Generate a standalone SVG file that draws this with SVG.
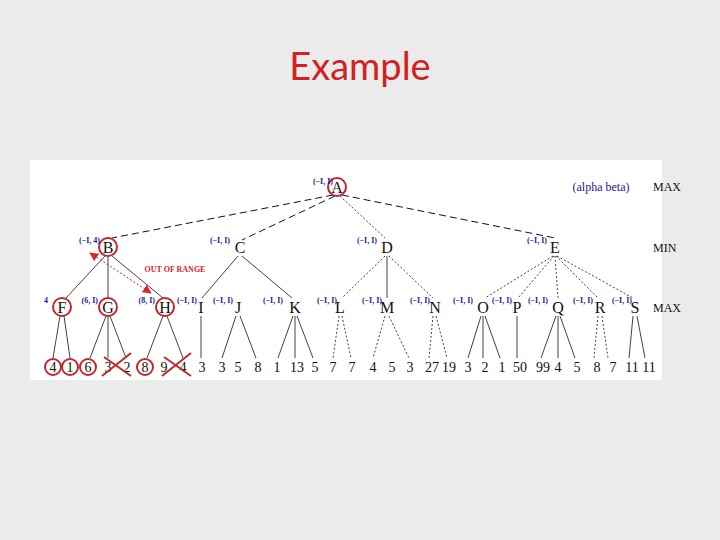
<svg xmlns="http://www.w3.org/2000/svg" width="720" height="540" viewBox="0 0 720 540">
<style>
.n{font-family:"Liberation Serif",serif;font-size:16px;text-anchor:middle;fill:#111}
.lf{font-family:"Liberation Serif",serif;font-size:14px;text-anchor:middle;fill:#111}
.lb{font-family:"Liberation Serif",serif;font-size:8px;font-weight:bold;text-anchor:end;fill:#1a1a9a}
.side{font-family:"Liberation Serif",serif;font-size:12px;fill:#111}
.e{stroke:#111;stroke-width:0.8;fill:none}
.d{stroke:#111;stroke-width:1;fill:none;stroke-dasharray:7 4}
.o{stroke:#111;stroke-width:0.8;fill:none;stroke-dasharray:2 2}
.rc{fill:none;stroke:#c0282d;stroke-width:2}
.rx{stroke:#c0282d;stroke-width:2}
</style>
<defs>
<marker id="ah" viewBox="0 0 10 10" refX="9" refY="5" markerWidth="9" markerHeight="9" markerUnits="userSpaceOnUse" orient="auto-start-reverse"><path d="M0,0 L10,5 L0,10 z" fill="#e0202a"/></marker>
</defs>
<rect width="720" height="540" fill="#ebebeb"/>
<text x="360" y="80" font-family="Lato,'Open Sans',sans-serif" font-size="38" fill="#d42020" text-anchor="middle">Example</text>
<rect x="30" y="160" width="632" height="220" fill="#ffffff"/>
<g id="connectors">
<line class="d" x1="333" y1="195" x2="112" y2="238"/>
<line class="d" x1="335" y1="196" x2="242" y2="240"/>
<line class="o" x1="340" y1="196" x2="385" y2="238"/>
<line class="d" x1="342" y1="195" x2="555" y2="238"/>
<line class="e" x1="105" y1="256" x2="66" y2="298"/>
<line class="e" x1="108" y1="256" x2="108" y2="298"/>
<line class="e" x1="112" y1="256" x2="163" y2="298"/>
<line class="e" x1="238" y1="256" x2="202" y2="298"/>
<line class="e" x1="242" y1="256" x2="292" y2="298"/>
<line class="o" x1="385" y1="256" x2="342" y2="298"/>
<line class="e" x1="387" y1="256" x2="387" y2="298"/>
<line class="o" x1="389" y1="256" x2="433" y2="298"/>
<line class="o" x1="553" y1="256" x2="485" y2="298"/>
<line class="o" x1="554" y1="256" x2="518" y2="298"/>
<line class="o" x1="555" y1="256" x2="558" y2="298"/>
<line class="o" x1="556" y1="256" x2="598" y2="298"/>
<line class="o" x1="557" y1="256" x2="633" y2="298"/>
<line class="e" x1="60" y1="316" x2="53" y2="358"/>
<line class="e" x1="64" y1="316" x2="70" y2="358"/>
<line class="e" x1="106" y1="316" x2="90" y2="358"/>
<line class="e" x1="108" y1="316" x2="108" y2="358"/>
<line class="e" x1="110" y1="316" x2="126" y2="358"/>
<line class="e" x1="163" y1="316" x2="147" y2="358"/>
<line class="e" x1="167" y1="316" x2="183" y2="358"/>
<line class="e" x1="201" y1="316" x2="201" y2="358"/>
<line class="e" x1="236" y1="316" x2="222" y2="358"/>
<line class="e" x1="240" y1="316" x2="256" y2="358"/>
<line class="e" x1="293" y1="316" x2="278" y2="358"/>
<line class="e" x1="295" y1="316" x2="295" y2="358"/>
<line class="e" x1="297" y1="316" x2="313" y2="358"/>
<line class="o" x1="339" y1="316" x2="333" y2="358"/>
<line class="o" x1="342" y1="316" x2="351" y2="358"/>
<line class="o" x1="385" y1="316" x2="373" y2="358"/>
<line class="o" x1="389" y1="316" x2="409" y2="358"/>
<line class="o" x1="433" y1="316" x2="429" y2="358"/>
<line class="o" x1="436" y1="316" x2="447" y2="358"/>
<line class="e" x1="481" y1="316" x2="468" y2="358"/>
<line class="e" x1="483" y1="316" x2="483" y2="358"/>
<line class="e" x1="485" y1="316" x2="500" y2="358"/>
<line class="e" x1="517" y1="316" x2="517" y2="358"/>
<line class="e" x1="556" y1="316" x2="541" y2="358"/>
<line class="e" x1="558" y1="316" x2="558" y2="358"/>
<line class="e" x1="560" y1="316" x2="575" y2="358"/>
<line class="o" x1="598" y1="316" x2="594" y2="358"/>
<line class="o" x1="602" y1="316" x2="608" y2="358"/>
<line class="e" x1="633" y1="316" x2="629" y2="358"/>
<line class="e" x1="637" y1="316" x2="645" y2="358"/>
<line stroke="#e0202a" stroke-width="1" stroke-dasharray="2 2" x1="90" y1="253" x2="151" y2="293" marker-start="url(#ah)" marker-end="url(#ah)"/>
</g>
<g id="A"><circle class="rc" cx="337" cy="187" r="9"/><text class="n" x="337" y="193">A</text><text class="lb" x="333" y="184">(−I, I)</text></g>
<g id="B"><circle class="rc" cx="108" cy="247" r="9"/><text class="n" x="108" y="253">B</text><text class="lb" x="100" y="243">(−I, 4)</text></g>
<g id="C"><text class="n" x="240" y="253">C</text><text class="lb" x="230" y="243">(−I, I)</text></g>
<g id="D"><text class="n" x="387" y="253">D</text><text class="lb" x="377" y="243">(−I, I)</text></g>
<g id="E"><text class="n" x="555" y="253">E</text><text class="lb" x="547" y="243">(−I, I)</text></g>
<g id="F"><circle class="rc" cx="62" cy="307" r="9"/><text class="n" x="62" y="313">F</text><text class="lb" x="48" y="303">4</text></g>
<g id="G"><circle class="rc" cx="108" cy="307" r="9"/><text class="n" x="108" y="313">G</text><text class="lb" x="98" y="303">(6, I)</text></g>
<g id="H"><circle class="rc" cx="165" cy="307" r="9"/><text class="n" x="165" y="313">H</text><text class="lb" x="155" y="303">(8, I)</text></g>
<g id="I"><text class="n" x="201" y="313">I</text><text class="lb" x="197" y="303">(−I, I)</text></g>
<g id="J"><text class="n" x="238" y="313">J</text><text class="lb" x="233" y="303">(−I, I)</text></g>
<g id="K"><text class="n" x="295" y="313">K</text><text class="lb" x="283" y="303">(−I, I)</text></g>
<g id="L"><text class="n" x="340" y="313">L</text><text class="lb" x="337" y="303">(−I, I)</text></g>
<g id="M"><text class="n" x="387" y="313">M</text><text class="lb" x="382" y="303">(−I, I)</text></g>
<g id="N"><text class="n" x="435" y="313">N</text><text class="lb" x="430" y="303">(−I, I)</text></g>
<g id="O"><text class="n" x="483" y="313">O</text><text class="lb" x="473" y="303">(−I, I)</text></g>
<g id="P"><text class="n" x="517" y="313">P</text><text class="lb" x="512" y="303">(−I, I)</text></g>
<g id="Q"><text class="n" x="558" y="313">Q</text><text class="lb" x="548" y="303">(−I, I)</text></g>
<g id="R"><text class="n" x="600" y="313">R</text><text class="lb" x="593" y="303">(−I, I)</text></g>
<g id="S"><text class="n" x="635" y="313">S</text><text class="lb" x="632" y="303">(−I, I)</text></g>
<g id="leaves">
<circle class="rc" cx="53" cy="367" r="8"/><circle class="rc" cx="70" cy="367" r="8"/><circle class="rc" cx="88" cy="367" r="8"/><circle class="rc" cx="145" cy="367" r="8"/>
<text class="lf" x="53" y="372">4</text><text class="lf" x="70" y="372">1</text><text class="lf" x="88" y="372">6</text><text class="lf" x="108" y="372">3</text><text class="lf" x="127" y="372">2</text><text class="lf" x="145" y="372">8</text><text class="lf" x="164" y="372">9</text><text class="lf" x="183" y="372">4</text><text class="lf" x="202" y="372">3</text><text class="lf" x="222" y="372">3</text><text class="lf" x="238" y="372">5</text><text class="lf" x="258" y="372">8</text><text class="lf" x="277" y="372">1</text><text class="lf" x="297" y="372">13</text><text class="lf" x="315" y="372">5</text><text class="lf" x="333" y="372">7</text><text class="lf" x="352" y="372">7</text><text class="lf" x="373" y="372">4</text><text class="lf" x="392" y="372">5</text><text class="lf" x="410" y="372">3</text><text class="lf" x="432" y="372">27</text><text class="lf" x="449" y="372">19</text><text class="lf" x="468" y="372">3</text><text class="lf" x="485" y="372">2</text><text class="lf" x="502" y="372">1</text><text class="lf" x="520" y="372">50</text><text class="lf" x="543" y="372">99</text><text class="lf" x="558" y="372">4</text><text class="lf" x="577" y="372">5</text><text class="lf" x="597" y="372">8</text><text class="lf" x="613" y="372">7</text><text class="lf" x="632" y="372">11</text><text class="lf" x="649" y="372">11</text>
<line class="rx" x1="102" y1="376" x2="131" y2="353"/><line class="rx" x1="104" y1="357" x2="131" y2="376"/>
<line class="rx" x1="162" y1="376" x2="191" y2="353"/><line class="rx" x1="164" y1="357" x2="191" y2="376"/>
</g>
<text x="175" y="272" font-family="'Liberation Serif',serif" font-size="8" font-weight="bold" fill="#e0202a" text-anchor="middle">OUT OF RANGE</text>
<text x="601" y="191" font-family="'Liberation Serif',serif" font-size="12" fill="#1a1a9a" text-anchor="middle">(alpha beta)</text>
<text class="side" x="653" y="191">MAX</text>
<text class="side" x="653" y="252">MIN</text>
<text class="side" x="653" y="312">MAX</text>
</svg>
